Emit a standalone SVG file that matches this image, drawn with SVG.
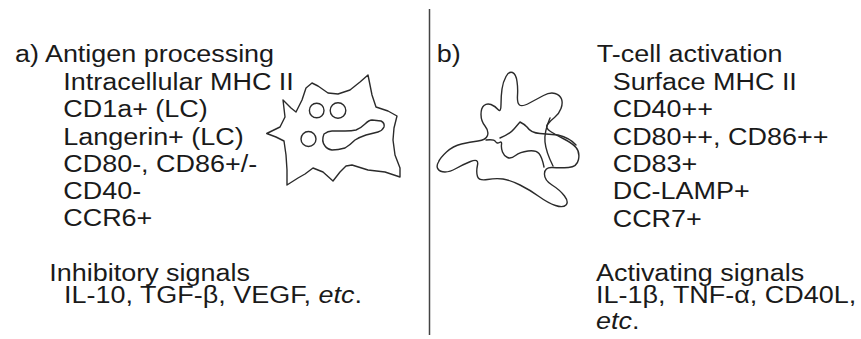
<svg xmlns="http://www.w3.org/2000/svg" width="861" height="339" viewBox="0 0 861 339">
  <style>
    .t { font-family: "Liberation Sans", Arial, sans-serif; font-size: 24.5px; fill: #1a1a1a; }
    .it { font-style: italic; }
    .cell { fill: none; stroke: #2b2b2b; stroke-width: 1.4; stroke-linejoin: round; stroke-linecap: round; }
    .divider { stroke: #444; stroke-width: 1.5; }
  </style>
  <rect width="861" height="339" fill="#ffffff"/>

  <!-- vertical divider between the two panels -->
  <line id="divider" class="divider" x1="429.5" y1="9" x2="429.5" y2="335"/>

  <!-- panel a: immature (antigen-processing) dendritic cell -->
  <g id="panel-a-text" transform="scale(1.1 1)">
    <text class="t" x="13.6" y="62">a) Antigen processing</text>
    <text class="t" x="57.5" y="90">Intracellular MHC II</text>
    <text class="t" x="57.5" y="117.5">CD1a+ (LC)</text>
    <text class="t" x="57.5" y="145">Langerin+ (LC)</text>
    <text class="t" x="57.5" y="172.5">CD80-, CD86+/-</text>
    <text class="t" x="57.5" y="199">CD40-</text>
    <text class="t" x="57.5" y="226.5">CCR6+</text>
    <text class="t" x="44.8" y="281.5">Inhibitory signals</text>
    <text class="t" x="58.2" y="303">IL-10, TGF-β, VEGF, <tspan class="it">etc</tspan>.</text>
  </g>

  <!-- spiky cell body with vesicles -->
  <g id="cell-a">
    <polygon class="cell" points="266.7,133.5 280,127 285,117 283,100 291,108 296,112 302,100 306,88 312,83 318,86 328,93 338,94 350,90 360,82 368,75 372,95 376,107 388,111 397,116 394,128 393,140 395,155 400,168 400,177 385,172 368,170 352,165 346,166 340,172 333,181 323,172 313,168 305,174 298,178 287,185 287,170 286,155 284,141 276,137"/>
    <circle class="cell" cx="316.7" cy="110.5" r="7.3"/>
    <circle class="cell" cx="338" cy="110.5" r="7.8"/>
    <circle class="cell" cx="308.5" cy="139" r="7.5"/>
    <path class="cell" d="M324,134 Q328,131 332,131 L345,131 Q352,131 356,130 Q361,128 365,124 Q369,120 372,120 L381,121 Q385,123 384,127 Q382,131 378,132 L366,135 Q360,137 355,140 Q350,145 345,148 Q338,150 332,150 Q327,149 325,146 Q321,141 324,134 Z"/>
  </g>

  <!-- panel b: mature (T-cell activating) dendritic cell -->
  <g id="panel-b-text" transform="scale(1.1 1)">
    <text class="t" x="397" y="62">b)</text>
    <text class="t" x="542.5" y="62">T-cell activation</text>
    <text class="t" x="557" y="90">Surface MHC II</text>
    <text class="t" x="557" y="117.5">CD40++</text>
    <text class="t" x="557" y="145">CD80++, CD86++</text>
    <text class="t" x="557" y="172.5">CD83+</text>
    <text class="t" x="557" y="199">DC-LAMP+</text>
    <text class="t" x="557" y="227">CCR7+</text>
    <text class="t" x="541.8" y="281.5">Activating signals</text>
    <text class="t" x="541.8" y="303">IL-1β, TNF-α, CD40L,</text>
    <text class="t it" x="541.8" y="329">etc<tspan style="font-style:normal">.</tspan></text>
  </g>

  <!-- veiled cell with overlapping lobes -->
  <g id="cell-b">
    <path class="cell" d="M438.5,162 Q440,158 446.5,152 Q453,146 461.5,144 Q470,142 478,141 Q486,140 487.5,135.5 Q489,131 485,126 Q481,121 481,114.5 Q481,108 484,105.5 Q487,103 491,104.5 Q495,106 498,109.5 Q501,113 501,104.5 Q501,96 502,89 Q503,82 506,76.5 Q509,71 512.5,72.5 Q516,74 517,81.5 Q518,88 517.5,95.5 Q517,103 519.5,105 Q522,107 529.5,103 Q537,99 543.5,95.5 Q550,92 555,93.5 Q560,95 561.5,99 Q563,103 561,108.5 Q559,114 554.5,117.5 Q550,121 547.5,124.5 Q545,128 550.5,131.5 Q556,135 564,139 Q572,143 576,147.5 Q580,152 578.5,159.5 Q577,167 568.5,167.5 Q560,168 552.5,167.5 Q545,167 544.5,173.5 Q544,180 552,185 Q560,190 564.5,196 Q569,202 566,205 Q563,208 555.5,205.5 Q548,203 539,196.5 Q530,190 520,185 Q510,180 503,179 Q496,178 487.5,179.5 Q479,181 477.5,176.5 Q476,172 477.5,165 Q479,158 470.5,161.5 Q462,165 456,168.5 Q450,172 445,172 Q440,172 438,169 Q436,166 438.5,162 Z"/>
    <path class="cell" d="M486,140 Q494,139 495.5,141.5 Q497,144 499.5,142.5 Q502,141 501.5,144.5 Q501,148 502.5,152 Q504,156 507.5,157.5 Q511,159 515.5,155.5 Q520,152 528,151 Q536,150 539,153.5 Q542,157 544,167"/>
    <path class="cell" d="M500,138 Q510,134 514,129 L520,122 Q524,124 527,127 Q531,133 540,133.5 L558,135 Q570,138 576,145"/>
    <path class="cell" d="M550,118 Q544,132 545,142 Q546,152 553,166"/>
  </g>
</svg>
